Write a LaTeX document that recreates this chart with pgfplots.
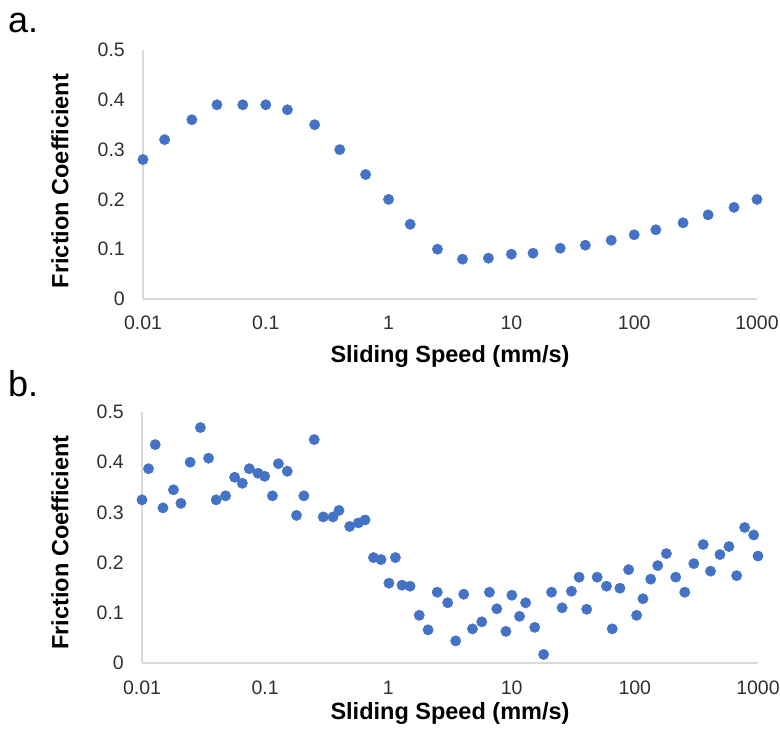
\documentclass[border=0pt]{standalone}
\usepackage{pgfplots}
\pgfplotsset{compat=1.18}
\usepackage{fontspec}
\setmainfont{Liberation Sans}
\definecolor{dotblue}{HTML}{4472C4}
\definecolor{axgray}{HTML}{D9D9D9}
\definecolor{tickgray}{HTML}{303030}
\pgfplotstableread{
x y
0.01 0.28
0.015 0.32
0.025 0.36
0.04 0.39
0.065 0.39
0.1 0.39
0.15 0.38
0.25 0.35
0.4 0.30
0.65 0.25
1 0.20
1.5 0.15
2.5 0.10
4 0.08
6.5 0.082
10 0.09
15 0.092
25 0.102
40 0.108
65 0.118
100 0.129
150 0.139
250 0.153
400 0.169
650 0.184
1000 0.20
}\dataA
\pgfplotstableread{
x y
0.01 0.325
0.0113 0.387
0.0128 0.435
0.0148 0.309
0.018 0.345
0.0207 0.318
0.0246 0.400
0.0298 0.469
0.0347 0.408
0.040 0.325
0.0477 0.333
0.0565 0.370
0.0652 0.358
0.0743 0.387
0.0875 0.378
0.099 0.372
0.1145 0.333
0.128 0.397
0.151 0.382
0.1795 0.294
0.206 0.333
0.25 0.445
0.296 0.291
0.355 0.291
0.397 0.304
0.485 0.272
0.571 0.279
0.646 0.285
0.757 0.210
0.871 0.206
1.01 0.159
1.14 0.210
1.29 0.155
1.50 0.153
1.78 0.095
2.10 0.066
2.49 0.141
3.03 0.120
3.52 0.044
4.09 0.137
4.81 0.068
5.73 0.082
6.61 0.141
7.59 0.108
8.99 0.063
10.05 0.135
11.6 0.093
13.0 0.120
15.4 0.071
18.2 0.017
21.1 0.141
25.7 0.110
30.6 0.143
35.3 0.171
40.7 0.107
49.5 0.171
58.9 0.153
65.6 0.068
75.7 0.149
89.1 0.186
103.5 0.095
116.5 0.128
134.6 0.167
153.5 0.194
180.5 0.218
214.8 0.171
254.5 0.141
301.4 0.198
359 0.236
412 0.183
491 0.216
581 0.232
671 0.174
780 0.270
923 0.255
1000 0.213
}\dataB
\begin{document}
\begin{tikzpicture}
\useasboundingbox (0pt,0pt) rectangle (780pt,729pt);
\node[anchor=base west, inner sep=0pt, font=\fontsize{36}{40}\selectfont] at (8pt,696pt) {a.};
\node[anchor=base west, inner sep=0pt, font=\fontsize{36}{40}\selectfont] at (8pt,332pt) {b.};
\begin{axis}[
  xmode=log,
  scale only axis,
  anchor=south west,
  at={(143pt,430pt)}, width=614pt, height=249pt,
  xmin=0.01, xmax=1000,
  ymin=0, ymax=0.5,
  xtick={0.01,0.1,1,10,100,1000},
  xticklabels={0.01,0.1,1,10,100,1000},
  ytick={0,0.1,0.2,0.3,0.4,0.5},
  yticklabels={0,0.1,0.2,0.3,0.4,0.5},
  axis x line=bottom,
  axis y line=left,
  axis line style={-, draw=axgray, line width=1.3pt},
  major tick length=0pt,
  minor tick num=0,
  clip=false,
  /pgf/number format/assume math mode=true,
  tick label style={font=\fontsize{19.5}{22}\selectfont, text=tickgray},
  xticklabel style={anchor=base, yshift=-31pt},
  yticklabel style={anchor=east, inner sep=0pt, xshift=-18pt},
  label style={font=\bfseries\fontsize{23.5}{26}\selectfont},
  xlabel={Sliding Speed (mm/s)},
  ylabel={Friction Coefficient},
  xlabel style={at={(axis description cs:0.5,-0.257)}, anchor=base},
  ylabel style={at={(axis description cs:-0.1352,0.474)}, anchor=center},
]
\addplot[only marks, mark=*, mark size=5.2pt, mark options={draw=dotblue, fill=dotblue}] table[x=x,y=y] {\dataA};
\end{axis}
\begin{axis}[
  xmode=log,
  scale only axis,
  anchor=south west,
  at={(142pt,66pt)}, width=616pt, height=251pt,
  xmin=0.01, xmax=1000,
  ymin=0, ymax=0.5,
  xtick={0.01,0.1,1,10,100,1000},
  xticklabels={0.01,0.1,1,10,100,1000},
  ytick={0,0.1,0.2,0.3,0.4,0.5},
  yticklabels={0,0.1,0.2,0.3,0.4,0.5},
  axis x line=bottom,
  axis y line=left,
  axis line style={-, draw=axgray, line width=1.3pt},
  major tick length=0pt,
  minor tick num=0,
  clip=false,
  /pgf/number format/assume math mode=true,
  tick label style={font=\fontsize{19.5}{22}\selectfont, text=tickgray},
  xticklabel style={anchor=base, yshift=-31pt},
  yticklabel style={anchor=east, inner sep=0pt, xshift=-18pt},
  label style={font=\bfseries\fontsize{23.5}{26}\selectfont},
  xlabel={Sliding Speed (mm/s)},
  ylabel={Friction Coefficient},
  xlabel style={at={(axis description cs:0.5,-0.227)}, anchor=base},
  ylabel style={at={(axis description cs:-0.1331,0.480)}, anchor=center},
]
\addplot[only marks, mark=*, mark size=5.2pt, mark options={draw=dotblue, fill=dotblue}] table[x=x,y=y] {\dataB};
\end{axis}
\end{tikzpicture}
\end{document}
